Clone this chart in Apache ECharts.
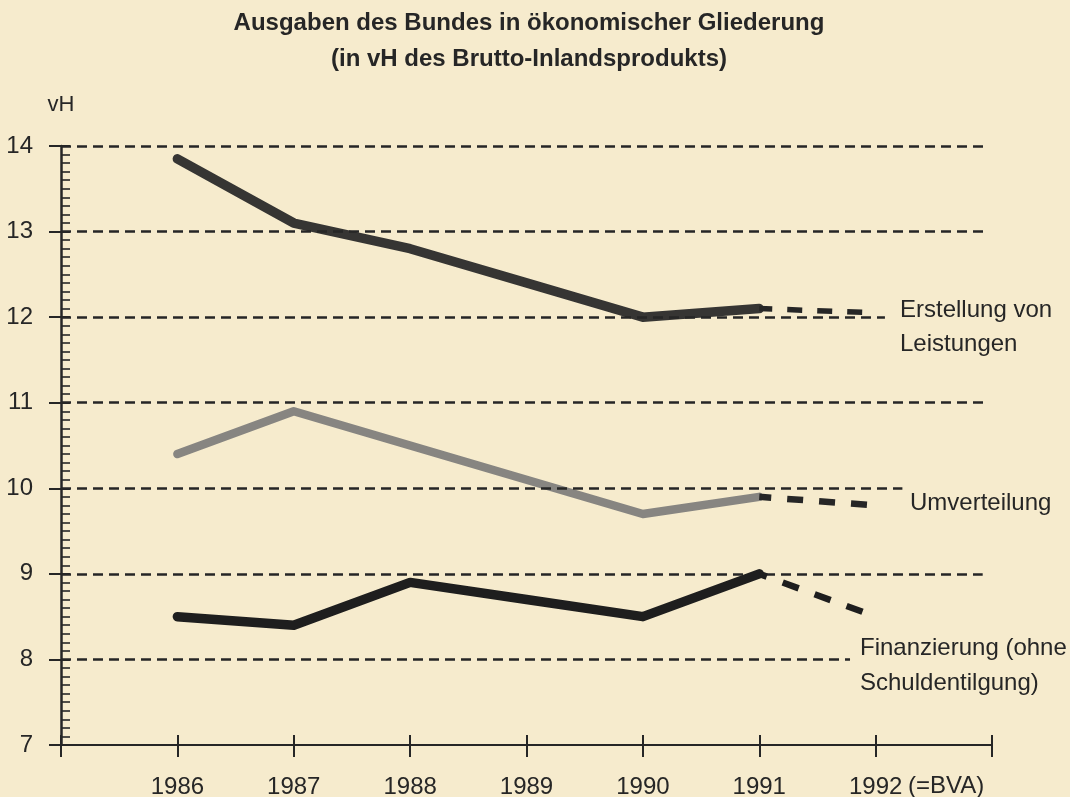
<!DOCTYPE html>
<html>
<head>
<meta charset="utf-8">
<script src="https://cdn.jsdelivr.net/npm/echarts@6/dist/echarts.min.js"></script>
<style>
html,body{margin:0;padding:0;background:#f6ebcd;overflow:hidden;}
#chart{width:1070px;height:797px;}
</style>
</head>
<body>
<div id="chart"></div>
<script>
// ---- data ----
const years = [1986, 1987, 1988, 1989, 1990, 1991, 1992];
const erstellung = [13.85, 13.1, 12.8, 12.4, 12.0, 12.1, 12.05];
const umverteilung = [10.4, 10.9, 10.5, 10.1, 9.7, 9.9, 9.8];
const finanzierung = [8.5, 8.4, 8.9, 8.7, 8.5, 9.0, 8.5];
const seriesNames = ['Erstellung von\nLeistungen', 'Umverteilung', 'Finanzierung (ohne\nSchuldentilgung)'];
const gridValues = [8, 9, 10, 11, 12, 13, 14];
const lastYearSuffix = '(=BVA)';
const titleLines = ['Ausgaben des Bundes in ökonomischer Gliederung', '(in vH des Brutto-Inlandsprodukts)'];
const yUnit = 'vH';

// ---- layout / style ----
const FONT = '"Liberation Sans", Arial, Helvetica, sans-serif';
const INK = '#262626';
const gridLineEnd = {14: 1992.95, 13: 1992.95, 12: 1992.08, 11: 1992.95, 10: 1992.23, 9: 1992.92, 8: 1991.78};
const X_MIN = 1985, X_MAX = 1993;

function pairs(vals, from, to) {
  const out = [];
  for (let i = from; i <= to; i++) out.push([years[i], vals[i]]);
  return out;
}
const nSolid = years.length - 2; // last index of solid part
const styles = [
  {color: '#363533', dcolor: '#262626', w: 9.5, dw: 5.5, dash: [15, 15], off: 2},
  {color: '#878581', dcolor: '#262626', w: 8.5, dw: 6.5, dash: [16, 16], off: 4},
  {color: '#1e1e1e', dcolor: '#1e1e1e', w: 9.5, dw: 6.5, dash: [17, 17], off: 9}
];
const valuesList = [erstellung, umverteilung, finanzierung];

const series = [];
// horizontal dashed reference lines
series.push({
  type: 'line', data: [], silent: true, z: 1,
  markLine: {
    silent: true, symbol: ['none', 'none'], animation: false,
    label: {show: false},
    lineStyle: {color: INK, width: 2.6, type: [10, 6]},
    emphasis: {disabled: true},
    data: gridValues.map(v => [{coord: [X_MIN, v]}, {coord: [gridLineEnd[v], v]}])
  }
});
valuesList.forEach((vals, k) => {
  const s = styles[k];
  series.push({
    name: seriesNames[k], type: 'line', symbol: 'none', z: 3 + k,
    data: pairs(vals, 0, nSolid),
    lineStyle: {color: s.color, width: s.w, cap: 'round', join: 'round'}
  });
  series.push({
    name: seriesNames[k] + ' (Plan)', type: 'line', symbol: 'none', z: 3 + k,
    data: pairs(vals, nSolid, years.length - 1),
    lineStyle: {color: s.dcolor, width: s.dw, type: s.dash, dashOffset: s.off, cap: 'butt'}
  });
});

const chart = echarts.init(document.getElementById('chart'), null, {renderer: 'canvas'});
const option = {
  animation: false,
  backgroundColor: '#f6ebcd',
  title: {
    text: titleLines.join('\n'),
    left: 529, top: 5, padding: 0, textAlign: 'center',
    textStyle: {fontFamily: FONT, fontWeight: 'bold', fontSize: 24, lineHeight: 36, color: INK}
  },
  grid: {left: 61, right: 78, top: 146, bottom: 52, containLabel: false, outerBoundsMode: 'none'},
  xAxis: [
    {
      type: 'value', position: 'bottom', min: X_MIN, max: X_MAX, interval: 1,
      axisLine: {onZero: false, lineStyle: {color: INK, width: 2}},
      axisTick: {show: true, length: 12, lineStyle: {color: INK, width: 2}},
      axisLabel: {
        margin: 30, fontFamily: FONT, fontSize: 24, color: INK,
        showMinLabel: true, showMaxLabel: true,
        formatter: v => (years.indexOf(v) >= 0 ? String(v) : '')
      },
      splitLine: {show: false}
    },
    {
      type: 'value', position: 'bottom', min: X_MIN, max: X_MAX, interval: 1,
      axisLine: {show: false, onZero: false},
      axisTick: {show: true, inside: true, length: 10, lineStyle: {color: INK, width: 2}},
      axisLabel: {show: false},
      splitLine: {show: false}
    }
  ],
  yAxis: [
    {
      type: 'value', position: 'left', min: 7, max: 14, interval: 1,
      name: yUnit, nameLocation: 'end', nameGap: 30,
      nameTextStyle: {fontFamily: FONT, fontSize: 22, color: INK, align: 'center'},
      axisLine: {show: true, onZero: false, lineStyle: {color: INK, width: 2.5}},
      axisTick: {show: true, length: 12, lineStyle: {color: INK, width: 2}},
      axisLabel: {margin: 28, fontFamily: FONT, fontSize: 24, color: INK},
      splitLine: {show: false}
    },
    {
      type: 'value', position: 'left', min: 7, max: 14, interval: 1,
      axisLine: {show: false, onZero: false},
      axisTick: {show: true, inside: true, length: 9, lineStyle: {color: INK, width: 2}},
      minorTick: {show: true, splitNumber: 10, length: 9, lineStyle: {color: INK, width: 1.6}},
      axisLabel: {show: false},
      splitLine: {show: false}
    }
  ],
  series: series,
  graphic: [
    {type: 'text', x: 900, y: 327, style: {text: seriesNames[0], font: '24px ' + FONT, fill: INK, align: 'left', verticalAlign: 'middle', lineHeight: 34}},
    {type: 'text', x: 910, y: 503, style: {text: seriesNames[1], font: '24px ' + FONT, fill: INK, align: 'left', verticalAlign: 'middle', lineHeight: 34}},
    {type: 'text', x: 860, y: 666, style: {text: seriesNames[2], font: '24px ' + FONT, fill: INK, align: 'left', verticalAlign: 'middle', lineHeight: 35}},
    {type: 'text', x: 908, y: 786, style: {text: lastYearSuffix, font: '24px ' + FONT, fill: INK, align: 'left', verticalAlign: 'middle'}}
  ]
};
chart.setOption(option);
</script>
</body>
</html>
